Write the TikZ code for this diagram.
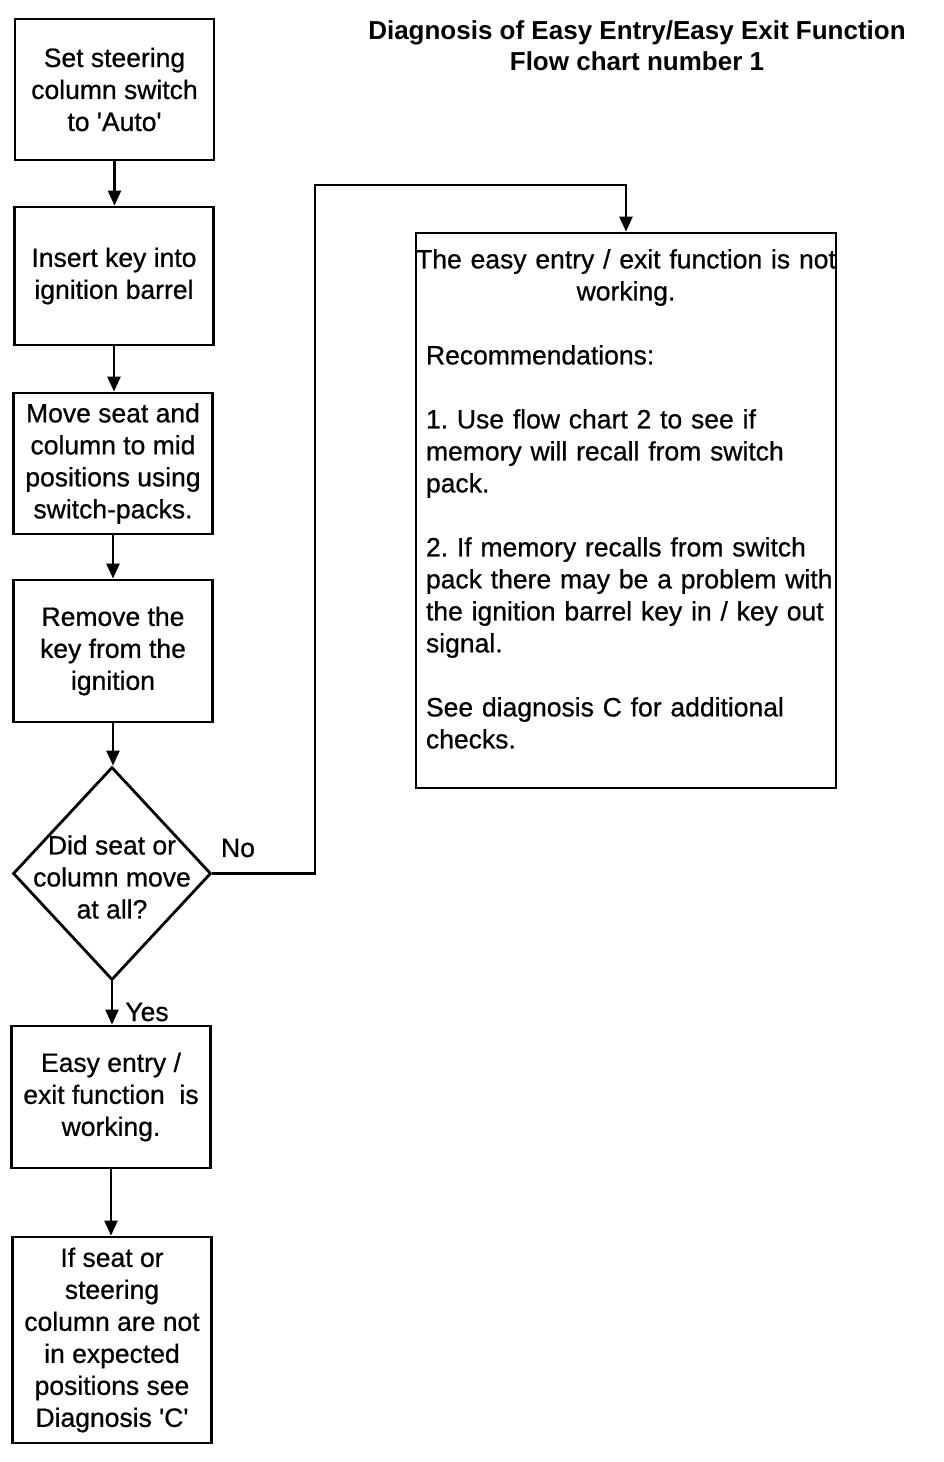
\documentclass[tikz,border=0pt]{standalone}
\usepackage{fontspec}
\setmainfont{Liberation Sans}
\newfontfamily\heavyfont[FakeBold=0.7]{Liberation Sans}
\usetikzlibrary{shapes.geometric,arrows.meta}
\begin{document}
\begin{tikzpicture}[x=1pt,y=-1pt,
  box/.style={draw, line width=2.8pt, minimum width=199pt, minimum height=141pt, inner sep=0pt, align=center, font=\heavyfont\fontsize{26.5}{32}\selectfont},
  flow/.style={line width=2.4pt, -{Triangle[length=15pt,width=13pt]}},
  lbl/.style={font=\heavyfont\fontsize{26.5}{32}\selectfont, inner sep=0pt}]
\useasboundingbox (0,0) rectangle (944,1462);

\node[font=\bfseries\fontsize{26}{31}\selectfont, align=center, inner sep=0pt] (title) at (637,46) {Diagnosis of Easy Entry/Easy Exit Function\\Flow chart number 1};

\node[box] (b1) at (114.5,89.5) {Set steering\\column switch\\to \textquotesingle Auto\textquotesingle};
\node[box, minimum height=138pt] (b2) at (114,276) {Insert key into\\ignition barrel};
\node[box] (b3) at (113,463.5) {Move seat and\\column to mid\\positions using\\switch-packs.};
\node[box, minimum height=142pt] (b4) at (113,651) {Remove the\\key from the\\ignition};
\node[draw, diamond, line width=2.8pt, minimum width=198pt, minimum height=213pt, inner sep=0pt] (dec) at (112,873.5) {};
\node[lbl, align=center] (dect) at (112,877) {Did seat or\\column move\\at all?};
\node[box, minimum height=142pt] (b5) at (111,1097) {Easy entry /\\exit function\ \ is\\working.};
\node[box, minimum height=206pt] (b6) at (112,1340) {If seat or\\steering\\column are not\\in expected\\positions see\\Diagnosis \textquotesingle C\textquotesingle};

\node[draw, line width=2.8pt, minimum width=420pt, minimum height=555pt, inner sep=0pt] (nw) at (626,510.5) {};
\node[anchor=north, text width=440pt, inner sep=0pt, font=\heavyfont\fontsize{26.5}{32}\selectfont] (nwt) at (626,249) {\frenchspacing\parskip=0pt\centering The easy entry / exit function is not\\working.\par\vspace{32pt}\raggedright\leftskip=20pt Recommendations:\par\vspace{32pt}1. Use flow chart 2 to see if\\memory will recall from switch\\pack.\par\vspace{32pt}2. If memory recalls from switch\\pack there may be a problem with\\the ignition barrel key in / key out\\signal.\par\vspace{32pt}See diagnosis C for additional\\checks.\par};

\node[lbl] (no) at (238,848) {No};
\node[lbl] (yes) at (147,1012) {Yes};

\draw[flow] (b1.south) -- (b1.south |- b2.north);
\draw[flow] (b2.south) -- (b2.south |- b3.north);
\draw[flow] (b3.south) -- (b3.south |- b4.north);
\draw[flow] (b4.south) -- (b4.south |- dec.north);
\draw[flow] (dec.south) -- (dec.south |- b5.north);
\draw[flow] (b5.south) -- (b5.south |- b6.north);
\coordinate (n1) at (315,185);
\draw[flow] (dec.east) -| (n1) -| (nw.north);
\end{tikzpicture}
\end{document}
